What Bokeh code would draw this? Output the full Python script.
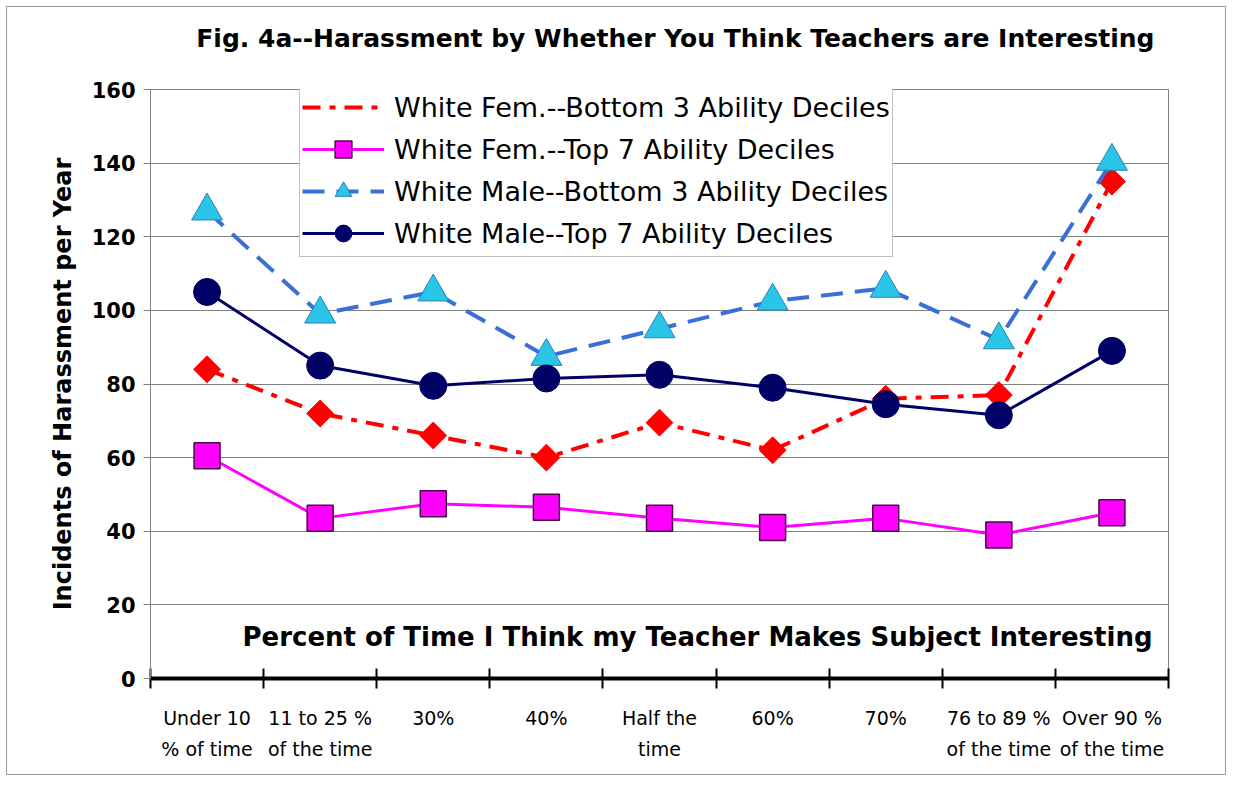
import numpy as np
from bokeh.plotting import figure
from bokeh.models import (FixedTicker, Range1d, Legend, LegendItem, Label, Title)
from bokeh.embed import file_html
from bokeh.resources import INLINE

categories = ["Under 10\n% of time", "11 to 25 %\nof the time", "30%", "40%",
              "Half the\ntime", "60%", "70%", "76 to 89 %\nof the time", "Over 90 %\nof the time"]
wf_bottom3 = [84, 72, 66, 60, 69.5, 62, 76, 77, 135]
wf_top7 = [60.5, 43.5, 47.5, 46.5, 43.5, 41, 43.5, 39, 45]
wm_bottom3 = [127, 99, 105, 87.5, 95, 102.5, 106, 92, 140.5]
wm_top7 = [105, 85, 79.5, 81.5, 82.5, 79, 74.5, 71.5, 89]
series_names = ["White Fem.--Bottom 3 Ability Deciles", "White Fem.--Top 7 Ability Deciles",
                "White Male--Bottom 3 Ability Deciles", "White Male--Top 7 Ability Deciles"]
y_ticks = [0, 20, 40, 60, 80, 100, 120, 140, 160]
title_text = "Fig. 4a--Harassment by Whether You Think Teachers are Interesting"
x_title = "Percent of Time I Think my Teacher Makes Subject Interesting"
y_title = "Incidents of Harassment per Year"

xs = [i + 0.5 for i in range(len(categories))]

SANS = "DejaVu Sans"

p = figure(width=1220, height=769, output_backend="svg", toolbar_location=None,
           x_range=Range1d(0, len(categories)), y_range=Range1d(0, 160),
           min_border_left=143, min_border_right=59, min_border_top=82, min_border_bottom=98,
           background_fill_color="white", border_fill_color="white")
p.outline_line_color = "#808080"
p.outline_line_width = 1

# spacer between frame and title, then the title itself
p.add_layout(Title(text=" ", standoff=32, text_font_size="1px",
                   text_color="white"), "above")
p.add_layout(Title(text=title_text, align="right", offset=14, standoff=4,
                   text_font=SANS, text_font_style="bold", text_font_size="25px",
                   text_color="black"), "above")

# grid
p.xgrid.visible = False
p.ygrid.ticker = FixedTicker(ticks=y_ticks)
p.ygrid.grid_line_color = "#808080"
p.ygrid.grid_line_width = 1

# x axis
xa = p.xaxis[0]
xa.ticker = FixedTicker(ticks=xs, minor_ticks=list(range(len(categories) + 1)))
xa.major_label_overrides = {x: c for x, c in zip(xs, categories)}
xa.major_tick_line_color = None
xa.minor_tick_in = 10
xa.minor_tick_out = 10
xa.minor_tick_line_color = "black"
xa.minor_tick_line_width = 2
xa.axis_line_color = "black"
xa.axis_line_width = 4
xa.major_label_text_font = SANS
xa.major_label_text_font_size = "19px"
xa.major_label_text_color = "black"
xa.major_label_standoff = 18
xa.major_label_text_line_height = 1.45

# y axis
ya = p.yaxis[0]
ya.ticker = FixedTicker(ticks=y_ticks)
ya.axis_line_color = "#808080"
ya.major_tick_line_color = "#808080"
ya.major_tick_in = 0
ya.major_tick_out = 7
ya.minor_tick_line_color = None
ya.major_label_text_font = SANS
ya.major_label_text_font_style = "bold"
ya.major_label_text_font_size = "21px"
ya.major_label_text_color = "black"
ya.major_label_standoff = 8
ya.axis_label = y_title
ya.axis_label_text_font = SANS
ya.axis_label_text_font_style = "bold"
ya.axis_label_text_font_size = "24px"
ya.axis_label_text_color = "black"
ya.axis_label_standoff = 12

# series
r1l = p.line(xs, wf_bottom3, line_color="#FF0000", line_width=4, line_dash="18 9 6 9")
r1m = p.scatter(xs, wf_bottom3, marker="square", angle=np.pi / 4, size=19,
                fill_color="#FF0000", line_color="#FF0000")
r1leg = p.scatter([], [], marker="diamond", size=26, fill_color="#FF0000", line_color="#FF0000")
r2l = p.line(xs, wf_top7, line_color="#FF00FF", line_width=3)
r2m = p.scatter(xs, wf_top7, marker="square", size=26, fill_color="#FF00FF",
                line_color="#4A0A4A", line_width=1.5)
r3l = p.line(xs, wm_bottom3, line_color="#3A6FD8", line_width=4, line_dash="22 12")
r3m = p.scatter(xs, wm_bottom3, marker="triangle", size=31, fill_color="#29C6E8",
                line_color="#2A7FB8", line_width=1)
r4l = p.line(xs, wm_top7, line_color="#000066", line_width=3)
r4m = p.scatter(xs, wm_top7, marker="circle", size=27, fill_color="#000066",
                line_color="#000066")

legend = Legend(items=[
    LegendItem(label=series_names[0], renderers=[r1l, r1leg]),
    LegendItem(label=series_names[1], renderers=[r2l, r2m]),
    LegendItem(label=series_names[2], renderers=[r3l, r3m]),
    LegendItem(label=series_names[3], renderers=[r4l, r4m]),
], location=(149, 421))
legend.label_text_font = SANS
legend.label_text_font_size = "27px"
legend.label_text_color = "black"
legend.glyph_width = 82
legend.glyph_height = 42
legend.label_height = 42
legend.spacing = 0
legend.padding = 2
legend.margin = 0
legend.label_standoff = 10
legend.border_line_color = "#808080"
legend.border_line_width = 1
legend.background_fill_color = "white"
legend.background_fill_alpha = 1
p.add_layout(legend, "center")

# x axis title inside plot
p.add_layout(Label(x=4.836, y=11.4, text=x_title,
                   text_font=SANS, text_font_style="bold", text_font_size="26px",
                   text_color="black", text_align="center", text_baseline="middle"))

p.styles = {"border": "1px solid #9a9a9a", "margin": "6px"}

open("out.html", "w").write(file_html(p, INLINE))
